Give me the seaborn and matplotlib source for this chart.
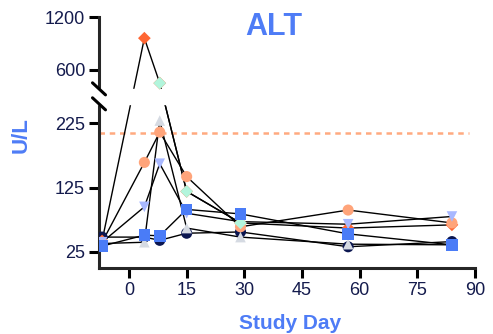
import numpy as np
import pandas as pd
import matplotlib
matplotlib.use('Agg')
import matplotlib.pyplot as plt
import seaborn as sns

# study days and ALT values (U/L) per subject, None = no point
days = [-7, 4, 8, 15, 29, 57, 84]
navy = [48, 48, 43, 54, 56, 33, 41]
orange = [42, 960, 450, 119, 70, 62, 67]
salmon = [40, 164, 211, 142, 64, 90, 70]
gray = [38, 40, 229, 62, 48, 37, 36]
periwinkle = [40, 95, 162, 85, 72, 68, 80]
mint = [None, None, 450, 119, 70, None, None]
blue = [34, 51, 50, 91, 84, 53, 36]
uln = 210

yticks = [25, 125, 225, 600, 1200]
xticks = [0, 15, 30, 45, 60, 75, 90]

# drawing order = bottom to top
subjects = {'navy': navy, 'orange': orange, 'salmon': salmon, 'gray': gray,
            'periwinkle': periwinkle, 'mint': mint, 'blue': blue}
colors = {'navy': '#0B1650', 'orange': '#FF6633', 'salmon': '#FFA47A',
          'gray': '#D5DAE2', 'periwinkle': '#A8B8FF', 'mint': '#B2F5DC',
          'blue': '#4A7CF7'}
marks = {'navy': 'o', 'orange': 'D', 'salmon': 'o', 'gray': '^',
         'periwinkle': 'v', 'mint': 'D', 'blue': 's'}
sizes = {'navy': 64, 'orange': 42, 'salmon': 64, 'gray': 58,
         'periwinkle': 58, 'mint': 42, 'blue': 70}

rows = []
for name, vals in subjects.items():
    for d, v in zip(days, vals):
        if v is not None:
            rows.append({'subject': name, 'day': d, 'alt': v})
df = pd.DataFrame(rows)

# broken y axis: 0-255 and 385-1200 on one axes via a piecewise scale
brk_lo, brk_hi = 255, 385
v_pts = [-1e4, 0, brk_lo, brk_hi, 1200, 1e5]
y_pts = [-1e4 * 0.645, 0, 164.5, 179.5, 251.5, 251.5 + (1e5 - 1200) * 0.0883]


def fwd(v):
    return np.interp(np.asarray(v, float), v_pts, y_pts)


def inv(y):
    return np.interp(np.asarray(y, float), y_pts, v_pts)


sns.set_style('ticks')
plt.rcParams['font.family'] = ['Liberation Sans', 'DejaVu Sans']

fig = plt.figure(figsize=(4.93, 3.34), dpi=100)
ax = fig.add_axes([99 / 493, 1 - 268 / 334, 376 / 493, 251 / 334])
ax.set_yscale('function', functions=(fwd, inv))

ax.axhline(uln, xmax=0.985, color='#FFAA80', lw=1.8, dashes=(2.2, 1.9), zorder=1)
sns.lineplot(data=df, x='day', y='alt', units='subject', estimator=None,
             color='black', lw=1.0, ax=ax, zorder=2, legend=False)
sns.scatterplot(data=df, x='day', y='alt', hue='subject', style='subject',
                size='subject', palette=colors, markers=marks, sizes=sizes,
                linewidth=0, alpha=1, ax=ax, zorder=5, legend=False)

ax.set_xlim(-7.8, 90)
ax.set_ylim(0, 1200)
ax.set_xticks(xticks)
ax.set_yticks(yticks)
ax.set_yticklabels([str(t) for t in yticks])
ax.minorticks_off()

sns.despine(ax=ax)
for s in ['left', 'bottom']:
    ax.spines[s].set_linewidth(2.2)
ax.tick_params(width=2.2, length=7, pad=3, labelsize=13, labelcolor='#141B4D',
               color='black')

# gap of the broken axis and its slashes
ax.axhspan(brk_lo, brk_hi, xmin=-0.05, xmax=1.0, color='white', zorder=3,
           clip_on=False)
top = float(fwd(1200))
for v in [brk_lo, brk_hi]:
    f = float(fwd(v)) / top
    ax.plot([-0.0173, 0.0173], [f + 0.024, f - 0.024], color='black', lw=2.2,
            transform=ax.transAxes, clip_on=False, zorder=6)

blue_txt = '#4E7CF6'
ax.text(0.465, 0.928, 'ALT', transform=ax.transAxes, ha='center',
        va='baseline', fontsize=22, fontweight='bold', color=blue_txt)
ax.set_xlabel('Study Day', fontsize=15, fontweight='bold', color=blue_txt)
ax.set_ylabel('U/L', fontsize=16, fontweight='bold', color=blue_txt)
ax.xaxis.set_label_coords(0.508, -0.183)
ax.yaxis.set_label_coords(-0.18, 0.53)

fig.savefig('out.png', dpi=100)
